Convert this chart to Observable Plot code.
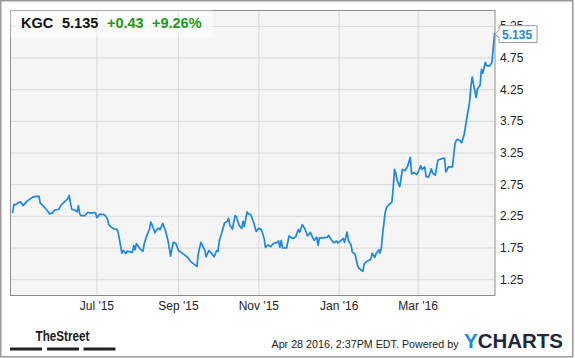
<!DOCTYPE html>
<html><head><meta charset="utf-8">
<script src="https://cdn.jsdelivr.net/npm/d3@7"></script>
<script src="https://cdn.jsdelivr.net/npm/@observablehq/plot@0.6"></script>
<style>
html,body{margin:0;padding:0;background:#fff;}
svg{display:block}
</style></head><body><div id="chart"></div>
<script>
const ticker = "KGC";
const lastPrice = "5.135";
const change = "+0.43";
const changePct = "+9.26%";
const footerStamp = "Apr 28 2016, 2:37PM EDT. Powered by";
const sourceName = "TheStreet";
const xTickDates = ["2015-07-01","2015-09-01","2015-11-01","2016-01-01","2016-03-01"];
const yTickValues = [1.25,1.75,2.25,2.75,3.25,3.75,4.25,4.75,5.25];

const dates = [
"2015-04-28","2015-04-29","2015-04-30","2015-05-02","2015-05-04","2015-05-06","2015-05-09","2015-05-13","2015-05-15","2015-05-18","2015-05-19","2015-05-21","2015-05-24","2015-05-26","2015-05-28","2015-05-30",
"2015-06-02","2015-06-04","2015-06-07","2015-06-09","2015-06-10","2015-06-11","2015-06-12","2015-06-14","2015-06-16","2015-06-17","2015-06-18","2015-06-19","2015-06-22","2015-06-24","2015-06-27","2015-06-29","2015-06-30",
"2015-07-01","2015-07-03","2015-07-06","2015-07-07","2015-07-09","2015-07-10","2015-07-12","2015-07-14","2015-07-16","2015-07-17","2015-07-18","2015-07-20","2015-07-21","2015-07-23","2015-07-24","2015-07-28","2015-07-29","2015-07-30","2015-07-31",
"2015-08-02","2015-08-04","2015-08-05","2015-08-06","2015-08-08","2015-08-10","2015-08-11","2015-08-13","2015-08-14","2015-08-16","2015-08-17","2015-08-18","2015-08-20","2015-08-22","2015-08-24","2015-08-26","2015-08-27","2015-08-28","2015-08-30",
"2015-09-01","2015-09-03","2015-09-05","2015-09-08","2015-09-10","2015-09-15","2015-09-16","2015-09-18","2015-09-19","2015-09-21","2015-09-22","2015-09-24","2015-09-26","2015-09-28","2015-09-30",
"2015-10-01","2015-10-02","2015-10-04","2015-10-06","2015-10-08","2015-10-09","2015-10-10","2015-10-12","2015-10-13","2015-10-14","2015-10-15","2015-10-17","2015-10-19","2015-10-20","2015-10-21","2015-10-23","2015-10-24","2015-10-26","2015-10-28","2015-10-30",
"2015-11-01","2015-11-03","2015-11-05","2015-11-06","2015-11-08","2015-11-10","2015-11-12","2015-11-14","2015-11-16","2015-11-17","2015-11-18","2015-11-19","2015-11-22","2015-11-24","2015-11-26","2015-11-27","2015-11-29",
"2015-12-01","2015-12-02","2015-12-04","2015-12-06","2015-12-08","2015-12-09","2015-12-10","2015-12-12","2015-12-13","2015-12-15","2015-12-16","2015-12-17","2015-12-20","2015-12-23","2015-12-24","2015-12-26","2015-12-28","2015-12-30","2015-12-31",
"2016-01-02","2016-01-04","2016-01-05","2016-01-07","2016-01-08","2016-01-10","2016-01-11","2016-01-13","2016-01-15","2016-01-16","2016-01-19","2016-01-20","2016-01-22","2016-01-25","2016-01-26","2016-01-28","2016-01-29","2016-01-31",
"2016-02-01","2016-02-02","2016-02-03","2016-02-05","2016-02-06","2016-02-08","2016-02-10","2016-02-11","2016-02-12","2016-02-13","2016-02-14","2016-02-16","2016-02-18","2016-02-20","2016-02-22","2016-02-24","2016-02-25","2016-02-27","2016-02-29",
"2016-03-02","2016-03-03","2016-03-04","2016-03-06","2016-03-07","2016-03-09","2016-03-11","2016-03-12","2016-03-14","2016-03-16","2016-03-19","2016-03-21","2016-03-22","2016-03-24","2016-03-27","2016-03-29","2016-03-30","2016-03-31",
"2016-04-02","2016-04-03","2016-04-05","2016-04-07","2016-04-09","2016-04-10","2016-04-11","2016-04-12","2016-04-14","2016-04-15","2016-04-17","2016-04-18","2016-04-19","2016-04-21","2016-04-22","2016-04-24","2016-04-26","2016-04-28"
];
const prices = [
2.31,2.44,2.43,2.46,2.48,2.42,2.49,2.55,2.56,2.57,2.46,2.42,2.35,2.29,2.30,2.35,
2.36,2.43,2.49,2.53,2.58,2.45,2.36,2.35,2.32,2.42,2.29,2.26,2.26,2.31,2.30,2.31,2.30,
2.23,2.28,2.28,2.27,2.21,2.12,2.08,2.05,2.05,2.01,1.90,1.67,1.71,1.66,1.70,1.68,1.79,1.72,1.82,
1.76,1.71,1.70,1.82,1.95,2.05,2.16,2.06,1.99,2.05,2.06,2.04,2.14,2.03,1.87,1.62,1.74,1.84,1.82,
1.71,1.68,1.65,1.60,1.54,1.46,1.66,1.84,1.80,1.71,1.61,1.71,1.67,1.61,1.71,
1.70,1.87,2.00,2.15,2.17,2.22,2.11,2.05,2.17,2.26,2.24,2.11,2.06,2.17,2.09,2.32,2.29,2.27,2.16,2.01,
2.06,2.04,1.90,1.76,1.80,1.77,1.82,1.83,1.86,1.76,1.87,1.75,1.75,1.94,1.91,1.90,1.93,
2.04,2.00,2.12,2.05,1.94,1.96,2.00,1.91,1.87,1.92,1.79,1.91,1.91,1.92,1.95,1.88,1.83,1.86,1.83,
1.86,1.90,1.84,2.00,1.87,1.80,1.68,1.66,1.47,1.43,1.38,1.50,1.54,1.57,1.67,1.60,1.66,1.72,
1.67,1.75,1.97,2.32,2.39,2.44,2.47,2.69,2.99,2.93,2.82,2.72,2.99,2.97,3.04,3.18,2.92,2.94,2.91,
3.00,3.05,2.99,3.03,2.88,2.87,3.00,2.93,2.90,3.14,3.16,3.17,2.95,3.03,3.03,3.40,3.45,3.47,
3.44,3.41,3.55,3.81,4.05,4.29,4.45,4.34,4.13,4.26,4.32,4.57,4.51,4.68,4.63,4.62,4.68,5.135
];

const data = dates.map((d, i) => ({date: new Date(d), price: prices[i]}));
const xTicks = xTickDates.map(d => new Date(d));
const blue = "#1b87e6";

const chart = Plot.plot({
  width: 575, height: 358,
  marginLeft: 10, marginRight: 80.5, marginTop: 10, marginBottom: 63,
  style: {fontFamily: "'Liberation Sans', Arial, sans-serif", fontSize: "12px", color: "#222", background: "#fff"},
  x: {type: "utc", domain: [new Date(Date.UTC(2015,3,26,10)), new Date(Date.UTC(2016,3,28,8))], label: null},
  y: {domain: [1, 5.5], label: null},
  marks: [
    Plot.frame({fill: "#f5f5f5", stroke: "none"}),
    Plot.gridX(xTicks, {stroke: "#d8d8d8", strokeOpacity: 1}),
    Plot.gridY(yTickValues, {stroke: "#d8d8d8", strokeOpacity: 1}),
    Plot.lineY(data, {x: "date", y: "price", stroke: blue, strokeWidth: 1.7, strokeLinejoin: "round"}),
    Plot.frame({stroke: "#8c8c8c"}),
    Plot.axisX(xTicks, {tickSize: 0, tickPadding: 6, tickFormat: d3.utcFormat("%b '%y"), label: null}),
    Plot.axisY(yTickValues, {anchor: "right", tickSize: 0, tickPadding: 5, tickFormat: d3.format(".2f"), label: null})
  ]
});
document.getElementById("chart").appendChild(chart);

const svg = d3.select(chart);
const sx = chart.scale("x"), sy = chart.scale("y");
const x0 = sx.range[0], yTop = sy.range[1];

// overlay group (left-anchored text)
const g = svg.append("g").attr("font-family", "'Liberation Sans', Arial, sans-serif").attr("text-anchor", "start");
g.append("rect").attr("x", x0 + 0.5).attr("y", yTop + 0.5).attr("width", 202).attr("height", 27)
  .attr("fill", "#fff").attr("fill-opacity", 0.55);
const titleParts = [[ticker, 21, "#111"], [lastPrice, 62, "#111"], [change, 107, "#1a9a1a"], [changePct, 152, "#1a9a1a"]];
titleParts.forEach(([t, x, c]) => {
  g.append("text").attr("x", x).attr("y", 28.3).attr("font-size", 14.5).attr("font-weight", "bold")
    .attr("fill", c).text(t);
});

// last price label
const last = data[data.length - 1];
const px = sx.apply(last.date), py = sy.apply(last.price) + 1;
g.append("path")
  .attr("d", `M${px+5},${py-8.5}H${px+43}V${py+8.5}H${px+5}V${py+4}L${px+1},${py}L${px+5},${py-4}Z`)
  .attr("fill", "#fff").attr("stroke", "#999").attr("stroke-width", 1);
g.append("text").attr("x", px + 8).attr("y", py + 4.5).attr("font-size", 12).attr("font-weight", "bold")
  .attr("fill", blue).text(lastPrice);

// footer
g.append("text").attr("x", 35.5).attr("y", 341).attr("font-size", 15).attr("font-weight", "bold")
  .attr("font-family", "'Liberation Sans Narrow', 'Liberation Sans', Arial, sans-serif")
  .attr("fill", "#1a1a1a").attr("textLength", 54).attr("lengthAdjust", "spacingAndGlyphs").text(sourceName);
[[10, 32], [47, 32], [83.5, 32]].forEach(([x, w]) => {
  g.append("rect").attr("x", x).attr("y", 347.5).attr("width", w).attr("height", 3).attr("fill", "#222");
});
g.append("text").attr("x", 271.5).attr("y", 348.3).attr("font-size", 11).attr("fill", "#222")
  .attr("textLength", 187).attr("lengthAdjust", "spacingAndGlyphs").text(footerStamp);
const yc = g.append("text").attr("x", 464).attr("y", 348.3).attr("font-size", 20).attr("font-weight", "bold")
  .attr("textLength", 99).attr("lengthAdjust", "spacingAndGlyphs");
yc.append("tspan").attr("fill", "#1a8be3").text("Y");
yc.append("tspan").attr("fill", "#1d2a3a").text("CHARTS");

// outer border
svg.append("rect").attr("x", 0.75).attr("y", 0.75).attr("width", 572).attr("height", 356)
  .attr("fill", "none").attr("stroke", "#999").attr("stroke-width", 1.5);
</script></body></html>
